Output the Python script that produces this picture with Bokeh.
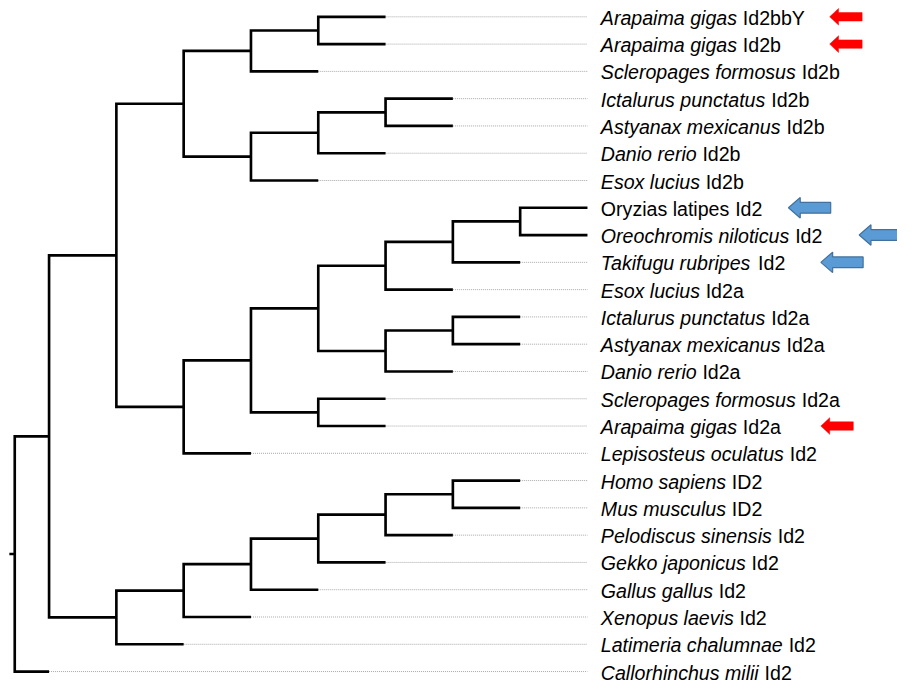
from bokeh.plotting import figure
from bokeh.models import Range1d, ColumnDataSource
from bokeh.embed import file_html
from bokeh.resources import INLINE
from bokeh.core.properties import value

# ---------------- data ----------------
species = [
    "Arapaima gigas", "Arapaima gigas", "Scleropages formosus",
    "Ictalurus punctatus", "Astyanax mexicanus", "Danio rerio", "Esox lucius",
    "Oryzias latipes", "Oreochromis niloticus", "Takifugu rubripes", "Esox lucius",
    "Ictalurus punctatus", "Astyanax mexicanus", "Danio rerio",
    "Scleropages formosus", "Arapaima gigas", "Lepisosteus oculatus",
    "Homo sapiens", "Mus musculus", "Pelodiscus sinensis", "Gekko japonicus",
    "Gallus gallus", "Xenopus laevis", "Latimeria chalumnae", "Callorhinchus milii",
]
genes = [
    "Id2bbY", "Id2b", "Id2b", "Id2b", "Id2b", "Id2b", "Id2b",
    "Id2", "Id2", "Id2", "Id2a", "Id2a", "Id2a", "Id2a", "Id2a", "Id2a", "Id2",
    "ID2", "ID2", "Id2", "Id2", "Id2", "Id2", "Id2", "Id2",
]
upright_species = [7]          # species names not set in italics
red_arrow_leaves = [0, 1, 15]
blue_arrow_leaves = [7, 8, 9]

# tree topology (leaf indices)
clade_id2b = (((0, 1), 2), (((3, 4), 5), 6))
clade_id2a = ((((((7, 8), 9), 10), ((11, 12), 13)), (14, 15)), 16)
clade_tetrapoda = ((((((17, 18), 19), 20), 21), 22), 23)
tree = (((clade_id2b, clade_id2a), clade_tetrapoda), 24)
first_branch = 0.51   # length of the branches leaving the root
root_stub = 0.08

# ---------------- layout ----------------
REF_W, REF_H = 913, 699        # design space
W, H = 897, 683                # actual figure size
SX, SY = W / REF_W, H / REF_H
X0, UNIT = 14.5, 68.5          # design px of root, px per branch unit
Y0, STEP = 16.7, 27.92         # design px of first leaf, px per leaf
FONT_PX = 20 * SX

def xpos(level):
    return 0.0 if level == 0 else first_branch + (level - 1)

paths_x, paths_y = [], []
leaf_x = {}

def layout(node, level):
    if isinstance(node, int):
        leaf_x[node] = xpos(level)
        return xpos(level), float(node)
    kids = [layout(c, level + 1) for c in node]
    x = xpos(level)
    (x1, y1), (x2, y2) = kids[0], kids[-1]
    paths_x.append([x1, x, x, x2])
    paths_y.append([y1, y1, y2, y2])
    return x, sum(k[1] for k in kids) / len(kids)

rx, ry = layout(tree, 0)
paths_x.append([rx - root_stub, rx])
paths_y.append([ry, ry])

xmax = max(leaf_x.values())
n = len(species)
leaves = list(range(n))

p = figure(width=W, height=H, output_backend="svg", toolbar_location=None,
           x_range=Range1d(-X0 / UNIT, (REF_W - X0) / UNIT),
           y_range=Range1d((REF_H - Y0) / STEP, -Y0 / STEP),
           min_border=0, background_fill_color="white",
           border_fill_color="white")
p.axis.visible = False
p.grid.visible = False
p.outline_line_color = None

# dotted guide lines
dx0 = [leaf_x[i] for i in leaves if leaf_x[i] < xmax]
dy = [float(i) for i in leaves if leaf_x[i] < xmax]
p.segment(x0=dx0, y0=dy, x1=[xmax] * len(dx0), y1=dy,
          line_color="#a8a8a8", line_width=1, line_dash="1 1")

# tree branches
p.multi_line(xs=paths_x, ys=paths_y, line_color="black", line_width=2.65,
             line_join="miter", line_cap="butt")

# labels
LABEL_OFF = 13.6 * SX
CW = dict(zip("ABCDEFGHIJKLMNOPQRSTUVWXYZ",
              [667, 667, 722, 722, 667, 611, 778, 722, 278, 500, 667, 556, 833,
               722, 778, 667, 778, 722, 667, 611, 722, 667, 944, 667, 667, 611]))
CW.update(zip("abcdefghijklmnopqrstuvwxyz",
              [556, 556, 500, 556, 556, 278, 556, 556, 222, 222, 500, 222, 833,
               556, 556, 556, 556, 333, 500, 278, 556, 500, 722, 500, 500, 500]))
CW[" "] = 278

def twidth(s):
    return sum(CW.get(c, 556) for c in s) * FONT_PX / 1000.0

font = value("Liberation Sans")
fsize = f"{FONT_PX:.1f}px"
for italic in (True, False):
    idx = [i for i in leaves if (i not in upright_species) == italic]
    src = ColumnDataSource(dict(x=[xmax] * len(idx), y=[float(i) for i in idx],
                                t=[species[i] for i in idx]))
    p.text(x="x", y="y", text="t", source=src, x_offset=LABEL_OFF, y_offset=1,
           text_font=font, text_font_size=fsize,
           text_font_style="italic" if italic else "normal",
           text_baseline="middle", text_align="left", text_color="black")

gsrc = ColumnDataSource(dict(x=[xmax] * n, y=[float(i) for i in leaves], t=genes,
                             off=[LABEL_OFF + twidth(species[i] + " ") for i in leaves]))
p.text(x="x", y="y", text="t", source=gsrc, x_offset="off", y_offset=1,
       text_font=font, text_font_size=fsize,
       text_baseline="middle", text_align="left", text_color="black")

# arrows (tip design px, head length, head half height, shaft half height, length)
def arrow(tip_px, y, hl, hh, sh, L):
    t = (tip_px - X0) / UNIT
    a, b = hl / UNIT, L / UNIT
    hh, sh = hh / STEP, sh / STEP
    xs = [t, t + a, t + a, t + b, t + b, t + a, t + a]
    ys = [y, y - hh, y - sh, y - sh, y + sh, y + sh, y + hh]
    return xs, ys

red_tips = [844, 844, 835]
blue_tips = [802, 874, 835]
rx_, ry_ = [], []
for leaf, tp in zip(red_arrow_leaves, red_tips):
    xs, ys = arrow(tp, float(leaf), 9, 8.5, 4.3, 33)
    rx_.append(xs); ry_.append(ys)
p.patches(xs=rx_, ys=ry_, fill_color="#ff0000", line_color="#ff0000", line_width=0.5)

bx_, by_ = [], []
for leaf, tp in zip(blue_arrow_leaves, blue_tips):
    xs, ys = arrow(tp, float(leaf), 12, 10.5, 5.5, 43)
    bx_.append(xs); by_.append(ys)
p.patches(xs=bx_, ys=by_, fill_color="#5b9bd5", line_color="#41719c", line_width=1.2)

open("out.html", "w").write(file_html(p, INLINE))
